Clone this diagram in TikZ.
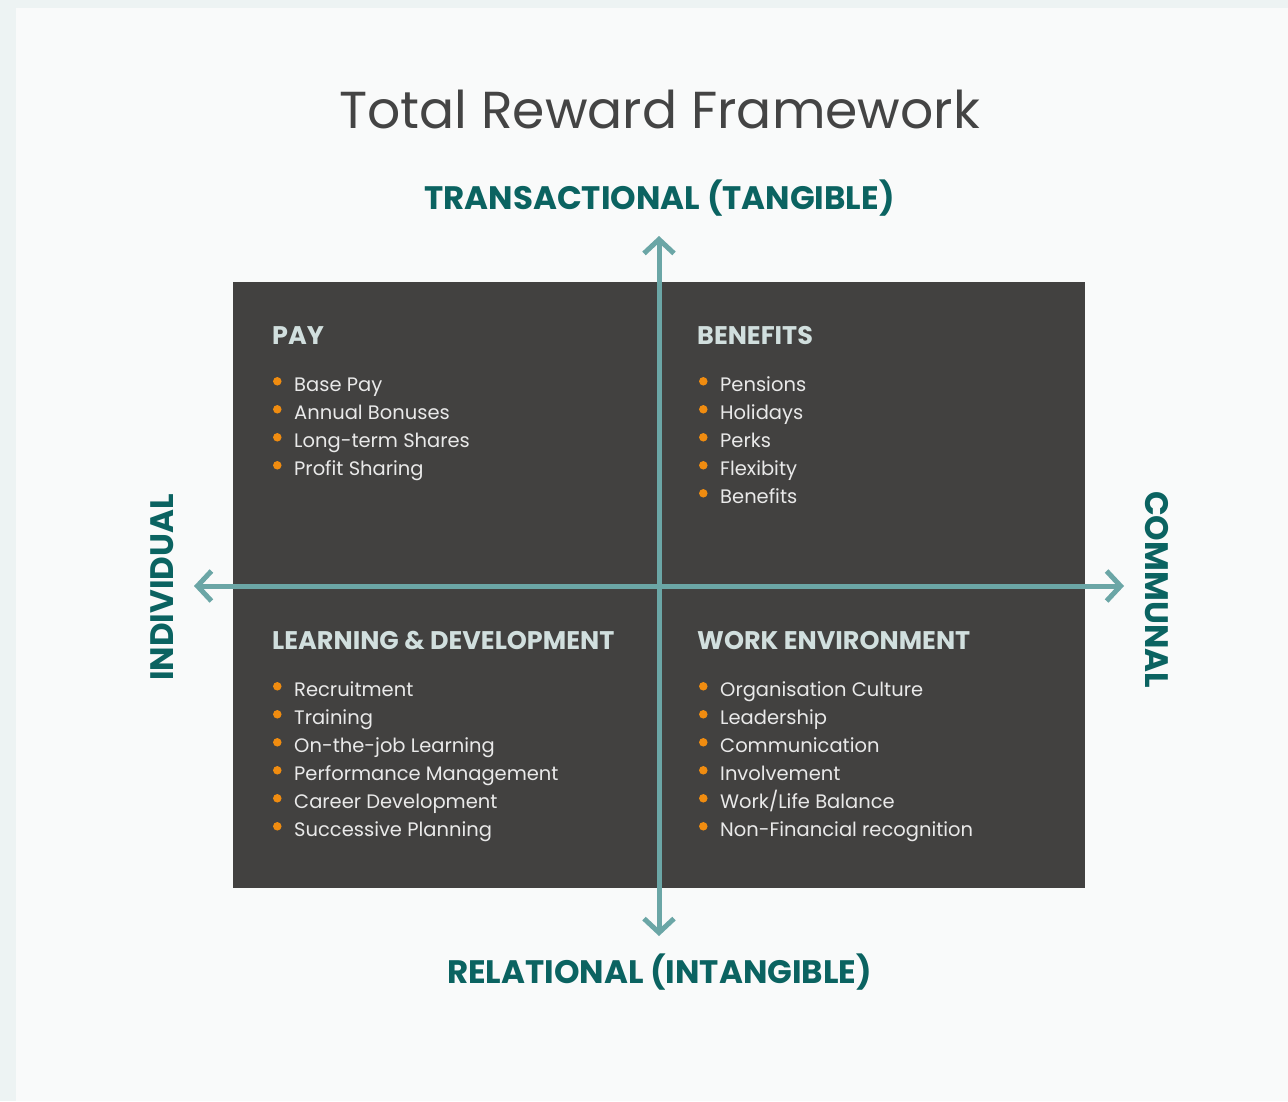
\documentclass[tikz,border=0pt]{standalone}
\usepackage{fontspec}
\setmainfont{Poppins}
\usetikzlibrary{arrows.meta}
\definecolor{outerbg}{HTML}{EDF3F3}
\definecolor{innerbg}{HTML}{F9FAFA}
\definecolor{boxc}{HTML}{424140}
\definecolor{axisc}{HTML}{6BA6A6}
\definecolor{tealc}{HTML}{0B6361}
\definecolor{titlec}{HTML}{444444}
\definecolor{headc}{HTML}{D1DFDE}
\definecolor{itemc}{HTML}{E9E9E9}
\definecolor{bulc}{HTML}{F08C10}
\begin{document}
\begin{tikzpicture}[x=1pt,y=-1pt,
  itemtext/.style={anchor=base west, text=itemc, font=\fontsize{19.5}{23}\selectfont, inner sep=0pt},
  headtext/.style={anchor=base west, text=headc, font=\fontsize{25.5}{30}\selectfont\bfseries, inner sep=0pt},
  axislab/.style={anchor=base, text=tealc, font=\fontsize{32.5}{38}\selectfont\bfseries, inner sep=0pt},
  bul/.style={circle, fill=bulc, inner sep=0pt, minimum size=8.5pt},
  axisline/.style={draw=axisc, line width=5pt, {Straight Barb[length=14pt,width=30pt]}-{Straight Barb[length=14pt,width=30pt]}}
]
\useasboundingbox (0,0) rectangle (1288,1101);
\fill[outerbg] (0,0) rectangle (1288,1101);
\fill[innerbg] (16,8) rectangle (1288,1101);

\node[anchor=base, text=titlec, font=\fontsize{52}{58}\selectfont, inner sep=0pt] (title) at (659.5,128) {Total Reward Framework};

\node[fill=boxc, minimum width=852pt, minimum height=606pt, inner sep=0pt, anchor=north west] (box) at (233,282) {};

% headings
\node[headtext] (hpay) at (272,344) {PAY};
\node[headtext] (hben) at (697,344) {BENEFITS};
\node[headtext] (hld) at (272,649) {LEARNING \& DEVELOPMENT};
\node[headtext] (hwe) at (697,649) {WORK ENVIRONMENT};

\foreach \t [count=\i] in {Base Pay, Annual Bonuses, Long-term Shares, Profit Sharing} {
  \node[bul] (pb\i) at (277.3, {381.3+28*(\i-1)}) {};
  \node[itemtext] (pi\i) at (294, {391+28*(\i-1)}) {\t};
}
\foreach \t [count=\i] in {Pensions, Holidays, Perks, Flexibity, Benefits} {
  \node[bul] (bb\i) at (703.3, {381.3+28*(\i-1)}) {};
  \node[itemtext] (bi\i) at (720, {391+28*(\i-1)}) {\t};
}
\foreach \t [count=\i] in {Recruitment, Training, On-the-job Learning, Performance Management, Career Development, Successive Planning} {
  \node[bul] (lb\i) at (277.3, {686.3+28*(\i-1)}) {};
  \node[itemtext] (li\i) at (294, {696.5+28*(\i-1)}) {\t};
}
\foreach \t [count=\i] in {Organisation Culture, Leadership, Communication, Involvement, Work/Life Balance, Non-Financial recognition} {
  \node[bul] (wb\i) at (703.3, {686.3+28*(\i-1)}) {};
  \node[itemtext] (wi\i) at (720, {696.5+28*(\i-1)}) {\t};
}

% axes
\coordinate (axtop) at (659,236);
\coordinate (axbot) at (659,936);
\coordinate (axleft) at (194,586);
\coordinate (axright) at (1124,586);
\draw[axisline] (axbot) -- (axtop);
\draw[axisline] (axleft) -- (axright);

\node[axislab] (ltop) at (659.5,209) {TRANSACTIONAL (TANGIBLE)};
\node[axislab] (lbot) at (659.5,983.5) {RELATIONAL (INTANGIBLE)};
\node[axislab, rotate=90] (lleft) at (173.5,587.5) {INDIVIDUAL};
\node[axislab, rotate=-90] (lright) at (1145,589.5) {COMMUNAL};
\end{tikzpicture}
\end{document}
